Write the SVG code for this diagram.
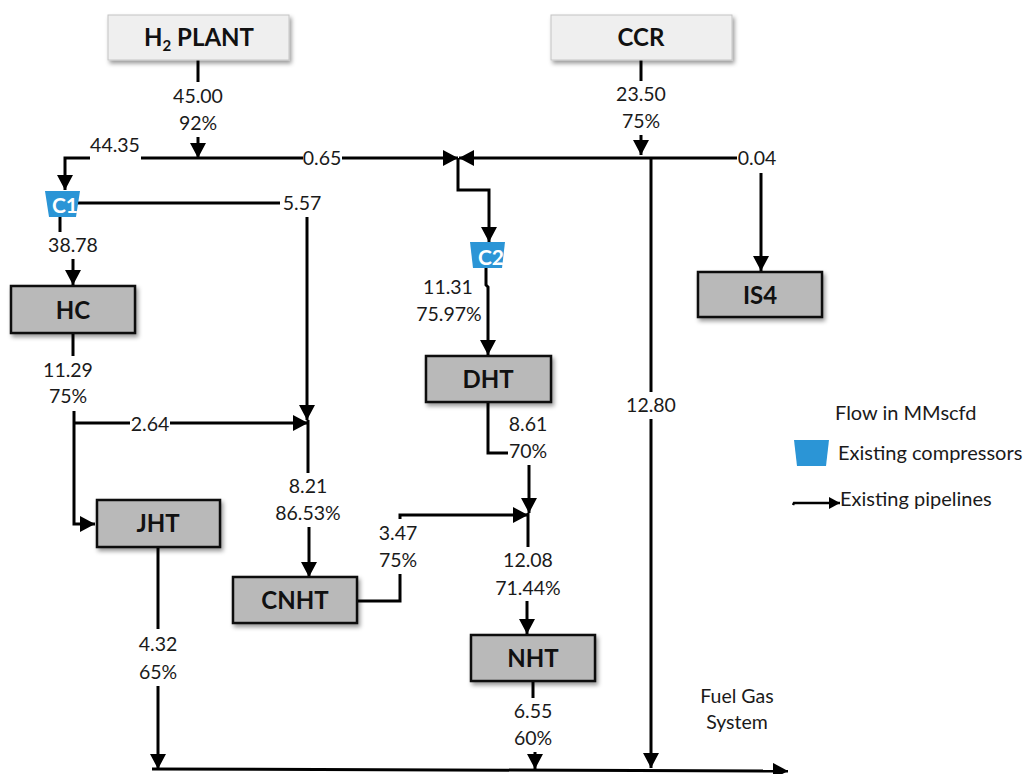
<svg xmlns="http://www.w3.org/2000/svg" width="1028" height="774" viewBox="0 0 1028 774">
<defs>
<marker id="ah" markerUnits="userSpaceOnUse" markerWidth="16" markerHeight="16" refX="15" refY="8" orient="auto"><path d="M0,0L15,8L0,16Z" fill="#000"/></marker>
<marker id="ahs" markerUnits="userSpaceOnUse" markerWidth="12" markerHeight="12" refX="11" refY="6" orient="auto"><path d="M0,0L11,6L0,12Z" fill="#000"/></marker>
<filter id="sh" x="-10%" y="-20%" width="125%" height="150%"><feDropShadow dx="2" dy="3" stdDeviation="2" flood-color="#000" flood-opacity="0.4"/></filter>
</defs>
<style>
text{font-family:Lato,"Open Sans","Liberation Sans",sans-serif;fill:#1a1a1a}
.l{font-size:19.5px;text-anchor:middle}
.n{font-size:24px;font-weight:700;text-anchor:middle;fill:#111}
.t{fill:#efefef;stroke:#c4c4c4;stroke-width:1;filter:url(#sh)}
.g{fill:#b9b9b9;stroke:#111;stroke-width:2.5;filter:url(#sh)}
.c{fill:#2b95d6}
.ct{font-size:21px;font-weight:700;fill:#fff;text-anchor:middle}
.w{fill:none;stroke:#000;stroke-width:3}
.a{marker-end:url(#ah)}
.lg{font-size:20px}
</style>
<g id="connectors">
<path class="w" d="M198,60V82"/>
<path class="w a" d="M198,137V158"/>
<path class="w" d="M141,158H303"/>
<path class="w a" d="M90,158H65V190"/>
<path class="w a" d="M342,158H458"/>
<path class="w" d="M641,60V81"/>
<path class="w a" d="M641,135V155"/>
<path class="w a" d="M737,158H459"/>
<path class="w a" d="M458,158V190H489V242"/>
<path class="w" d="M77,203H280"/>
<path class="w a" d="M307,217V420"/>
<path class="w" d="M60,216V232"/>
<path class="w a" d="M73,259V285"/>
<path class="w" d="M73,333V356"/>
<path class="w" d="M74,423H130"/>
<path class="w a" d="M170,423H308"/>
<path class="w a" d="M74,411V524H95"/>
<path class="w a" d="M486,268V285L488,287V355"/>
<path class="w" d="M488,402V453H508"/>
<path class="w a" d="M529,465V513"/>
<path class="w" d="M528,513V547"/>
<path class="w a" d="M400,519V515H528"/>
<path class="w" d="M358,601H400V574"/>
<path class="w" d="M308,420V473"/>
<path class="w a" d="M309,527V577"/>
<path class="w a" d="M527,601V634"/>
<path class="w" d="M533,682V698"/>
<path class="w a" d="M535,752V769"/>
<path class="w" d="M158,547V629"/>
<path class="w a" d="M158,686V769"/>
<path class="w a" d="M152,769L788,771"/>
<path class="w" d="M651,158V392"/>
<path class="w a" d="M651,419V768"/>
<path class="w a" d="M761,173V271"/>
<path class="w" style="marker-end:url(#ahs);stroke-width:2.5" d="M793,505L794,503H840"/>
</g>
<g id="h2plant"><rect class="t" x="108" y="15" width="181" height="45"/><text class="n" x="199" y="46">H<tspan font-size="15" dy="5">2</tspan><tspan dy="-5"> PLANT</tspan></text></g>
<g id="ccr"><rect class="t" x="551" y="15" width="181" height="45"/><text class="n" x="641" y="46">CCR</text></g>
<g id="c1"><path class="c" d="M45,191H80L76,217H49Z"/><text class="ct" x="65" y="213">C1</text></g>
<g id="c2"><path class="c" d="M470,242H505L502,268H473Z"/><text class="ct" x="491" y="265">C2</text></g>
<g id="hc"><rect class="g" x="11" y="286" width="124" height="47"/><text class="n" x="73" y="319">HC</text></g>
<g id="is4"><rect class="g" x="698" y="272" width="124" height="45"/><text class="n" x="760" y="304">IS4</text></g>
<g id="dht"><rect class="g" x="426" y="356" width="125" height="46"/><text class="n" x="488" y="388">DHT</text></g>
<g id="jht"><rect class="g" x="97" y="500" width="123" height="47"/><text class="n" x="158" y="532">JHT</text></g>
<g id="cnht"><rect class="g" x="233" y="577" width="124" height="46"/><text class="n" x="295" y="609">CNHT</text></g>
<g id="nht"><rect class="g" x="471" y="635" width="124" height="46"/><text class="n" x="533" y="667">NHT</text></g>
<g id="labels">
<text class="l" x="198" y="103">45.00</text><text class="l" x="198" y="130">92%</text>
<text class="l" x="115" y="152">44.35</text><text class="l" x="322" y="165">0.65</text>
<text class="l" x="302" y="210">5.57</text><text class="l" x="73" y="252">38.78</text>
<text class="l" x="641" y="101">23.50</text><text class="l" x="641" y="128">75%</text>
<text class="l" x="757" y="165">0.04</text>
<text class="l" x="448" y="294">11.31</text><text class="l" x="449" y="321">75.97%</text>
<text class="l" x="68" y="377">11.29</text><text class="l" x="68" y="403">75%</text>
<text class="l" x="150" y="431">2.64</text><text class="l" x="528" y="431">8.61</text><text class="l" x="528" y="458">70%</text>
<text class="l" x="651" y="412">12.80</text>
<text class="l" x="308" y="493">8.21</text><text class="l" x="308" y="520">86.53%</text>
<text class="l" x="398" y="540">3.47</text><text class="l" x="398" y="567">75%</text>
<text class="l" x="528" y="567">12.08</text><text class="l" x="528" y="595">71.44%</text>
<text class="l" x="158" y="651">4.32</text><text class="l" x="158" y="679">65%</text>
<text class="l" x="533" y="718">6.55</text><text class="l" x="533" y="745">60%</text>
<text class="l" x="737" y="703">Fuel Gas</text><text class="l" x="737" y="729">System</text>
</g>
<g id="legend">
<text class="lg" x="835" y="420">Flow in MMscfd</text>
<path class="c" d="M794,440H829L826,466H797Z"/>
<text class="lg" x="838" y="460">Existing compressors</text>
<text class="lg" x="840" y="506">Existing pipelines</text>
</g>
</svg>
